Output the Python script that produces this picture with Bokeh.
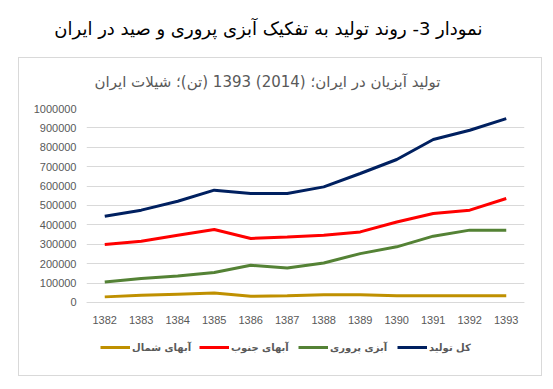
from bokeh.plotting import figure
from bokeh.models import (Range1d, FactorRange, FixedTicker, BasicTickFormatter,
                          Title, Legend, LegendItem, InlineStyleSheet)
from bokeh.embed import file_html
from bokeh.resources import INLINE

years = ["1382", "1383", "1384", "1385", "1386", "1387",
         "1388", "1389", "1390", "1391", "1392", "1393"]
total = [445000, 476000, 522000, 579000, 562000, 562000,
         596000, 665000, 737000, 840000, 888000, 948000]
south = [299000, 316000, 347000, 376000, 330000, 338000,
         347000, 364000, 415000, 459000, 476000, 536000]
aqua = [106000, 124000, 136000, 155000, 192000, 178000,
        204000, 252000, 287000, 342000, 373000, 373000]
north = [29000, 37000, 43000, 49000, 32000, 35000,
         40000, 40000, 35000, 35000, 35000, 35000]
y_ticks = list(range(0, 1000001, 100000))

page_title = "نمودار 3- روند تولید به تفکیک آبزی پروری و صید در ایران"
chart_title = "تولید آبزیان در ایران؛ (2014) 1393 (تن)؛ شیلات ایران"
names = ["آبهای شمال", "آبهای جنوب", "آبزی پروری", "کل تولید"]
colors = ["#BF9000", "#FF0000", "#548235", "#002060"]

box_css = InlineStyleSheet(css="""
:host { position: relative; }
:host::after { content: ""; position: absolute; left: 18px; top: 57px;
  width: 522px; height: 317px; border: 1px solid #d9d9d9;
  pointer-events: none; z-index: 10; }
""")

# frame spans from the 1,000,000 line down to just under the legend row;
# the category axis is pinned at value 0
p = figure(width=545, height=381, x_range=FactorRange(*years),
           y_range=Range1d(-273196, 1000000), output_backend="svg",
           toolbar_location=None, min_border_left=86, min_border_right=21,
           min_border_top=108, min_border_bottom=26, stylesheets=[box_css])
p.outline_line_color = None
p.background_fill_color = "white"
p.border_fill_color = "white"

p.xgrid.grid_line_color = None
p.ygrid.grid_line_color = "#d9d9d9"
p.ygrid.ticker = FixedTicker(ticks=y_ticks)

p.yaxis.ticker = FixedTicker(ticks=y_ticks)
p.yaxis.formatter = BasicTickFormatter(use_scientific=False)
p.yaxis.axis_line_color = None
p.yaxis.major_tick_line_color = None
p.yaxis.minor_tick_line_color = None
p.yaxis.major_label_standoff = 4

p.xaxis.fixed_location = 0
p.xaxis.axis_line_color = "#d9d9d9"
p.xaxis.major_tick_line_color = None
p.xaxis.minor_tick_line_color = None
p.xaxis.major_label_standoff = 8

for ax in (p.xaxis, p.yaxis):
    ax.major_label_text_font = "Liberation Sans"
    ax.major_label_text_font_size = "11px"
    ax.major_label_text_color = "#595959"

renderers = []
for vals, c in zip([north, south, aqua, total], colors):
    r = p.line(years, vals, line_color=c, line_width=3)
    renderers.append(r)

legend = Legend(items=[LegendItem(label=n, renderers=[r]) for n, r in zip(names, renderers)],
                orientation="horizontal", location=(14, 2),
                glyph_width=30, glyph_height=12, label_height=12, label_width=67,
                label_standoff=2, spacing=0, padding=0, margin=0,
                border_line_color=None, background_fill_alpha=0,
                label_text_font="DejaVu Sans", label_text_font_size="10px",
                label_text_font_style="bold", label_text_color="#595959")
p.add_layout(legend)

p.add_layout(Title(text=chart_title, align="right", offset=84, text_font="DejaVu Sans",
                   text_font_size="15px", text_font_style="normal",
                   text_color="#595959", standoff=36), "above")
p.add_layout(Title(text=page_title, align="right", offset=42, text_font="DejaVu Sans",
                   text_font_size="18px", text_font_style="normal",
                   text_color="black", standoff=28), "above")

open("out.html", "w").write(file_html(p, INLINE))
